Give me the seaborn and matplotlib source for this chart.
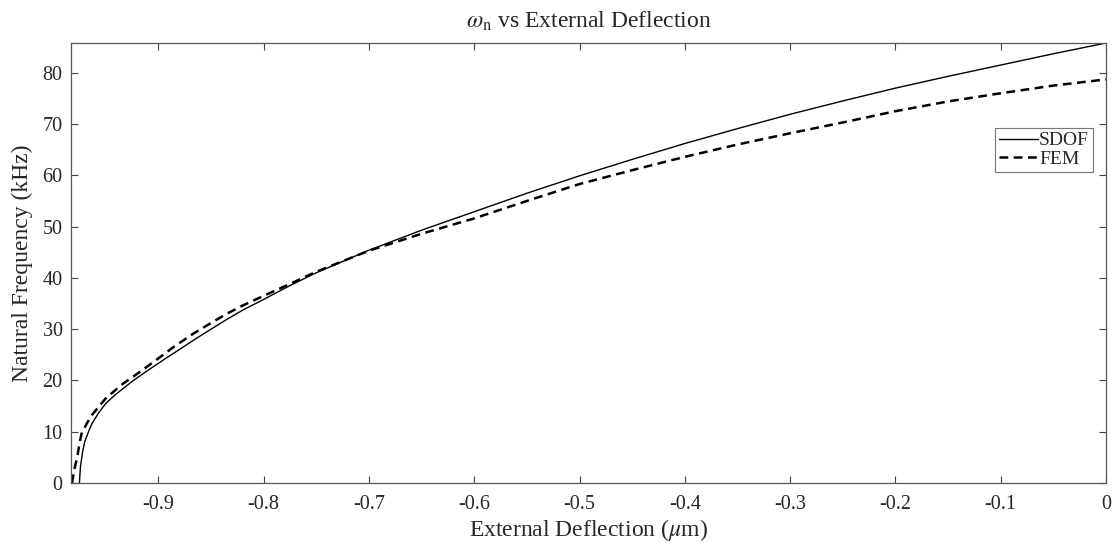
import matplotlib
matplotlib.use("Agg")
import matplotlib.pyplot as plt
import seaborn as sns
import pandas as pd

sdof_x = [-0.975, -0.974, -0.972, -0.970, -0.966, -0.963, -0.957, -0.950, -0.941, -0.925,
          -0.909, -0.893, -0.878, -0.867, -0.85, -0.835, -0.82, -0.8, -0.775, -0.75,
          -0.7, -0.65, -0.6, -0.55, -0.5, -0.45, -0.4, -0.35, -0.3, -0.25,
          -0.2, -0.15, -0.1, -0.05, 0.0]
sdof_y = [0.0, 3.2, 6.0, 8.0, 10.2, 11.6, 13.6, 15.5, 17.2, 19.8,
          22.1, 24.3, 26.3, 27.8, 30.0, 31.9, 33.7, 35.8, 38.5, 41.0,
          45.4, 49.3, 52.9, 56.5, 59.9, 63.1, 66.2, 69.1, 71.9, 74.5,
          77.0, 79.3, 81.5, 83.7, 85.8]

fem_x = [-0.982, -0.980, -0.977, -0.975, -0.973, -0.968, -0.963, -0.950, -0.934, -0.918,
         -0.900, -0.885, -0.867, -0.85, -0.835, -0.82, -0.8, -0.77, -0.75, -0.7,
         -0.65, -0.6, -0.55, -0.5, -0.45, -0.4, -0.35, -0.3, -0.25, -0.2,
         -0.15, -0.1, -0.05, 0.0]
fem_y = [0.0, 2.5, 5.1, 7.6, 9.6, 11.6, 13.3, 16.5, 19.3, 21.6,
         24.3, 26.6, 29.1, 31.2, 33.0, 34.6, 36.5, 39.3, 41.2, 45.3,
         48.6, 51.6, 55.0, 58.3, 61.0, 63.6, 66.0, 68.2, 70.3, 72.5,
         74.4, 76.0, 77.5, 78.7]

x_ticks = [-0.9, -0.8, -0.7, -0.6, -0.5, -0.4, -0.3, -0.2, -0.1, 0]
x_tick_labels = ["-0.9", "-0.8", "-0.7", "-0.6", "-0.5", "-0.4", "-0.3", "-0.2", "-0.1", "0"]
y_ticks = [0, 10, 20, 30, 40, 50, 60, 70, 80]

sns.set_style("ticks")
plt.rcParams["font.family"] = ["Liberation Serif", "DejaVu Serif"]
plt.rcParams["mathtext.fontset"] = "stix"

fig = plt.figure(figsize=(11.16, 5.43), dpi=100)
ax = fig.add_axes([0.0636, 0.1105, 0.9274, 0.8103])

df_s = pd.DataFrame({"x": sdof_x, "y": sdof_y})
df_f = pd.DataFrame({"x": fem_x, "y": fem_y})
sns.lineplot(data=df_s, x="x", y="y", ax=ax, color="black", linewidth=1.0, label="SDOF")
sns.lineplot(data=df_f, x="x", y="y", ax=ax, color="black", linewidth=1.8,
             linestyle=(0, (3.5, 2.2)), label="FEM")

ax.set_xlim(-0.983, 0)
ax.set_ylim(0, 85.8)
ax.set_xticks(x_ticks)
ax.set_xticklabels(x_tick_labels)
ax.set_yticks(y_ticks)
ax.tick_params(direction="in", length=5, width=0.8, color="#444444",
               labelsize=14.5, top=True, right=True)
ax.tick_params(axis="x", pad=9)
ax.tick_params(axis="y", pad=6)
for s in ax.spines.values():
    s.set_visible(True)
    s.set_color("#555555")
    s.set_linewidth(0.9)

ax.set_xlabel(r"External Deflection ($\mu$m)", fontsize=17)
ax.xaxis.set_label_coords(0.5, -0.078)
ax.set_ylabel("Natural Frequency (kHz)", fontsize=17)
ax.yaxis.set_label_coords(-0.037, 0.5)
ax.set_title(r"$\omega_{\rm n}$ vs External Deflection", fontsize=17, y=1.015)

leg = ax.legend(loc="upper right", bbox_to_anchor=(0.9874, 0.807), fontsize=14,
                frameon=True, fancybox=False, handlelength=2.0, handletextpad=0.05,
                borderpad=0.2, labelspacing=0.05, borderaxespad=0)
leg.get_frame().set_edgecolor("#555555")
leg.get_frame().set_linewidth(0.8)

fig.savefig("out.png", dpi=100)
